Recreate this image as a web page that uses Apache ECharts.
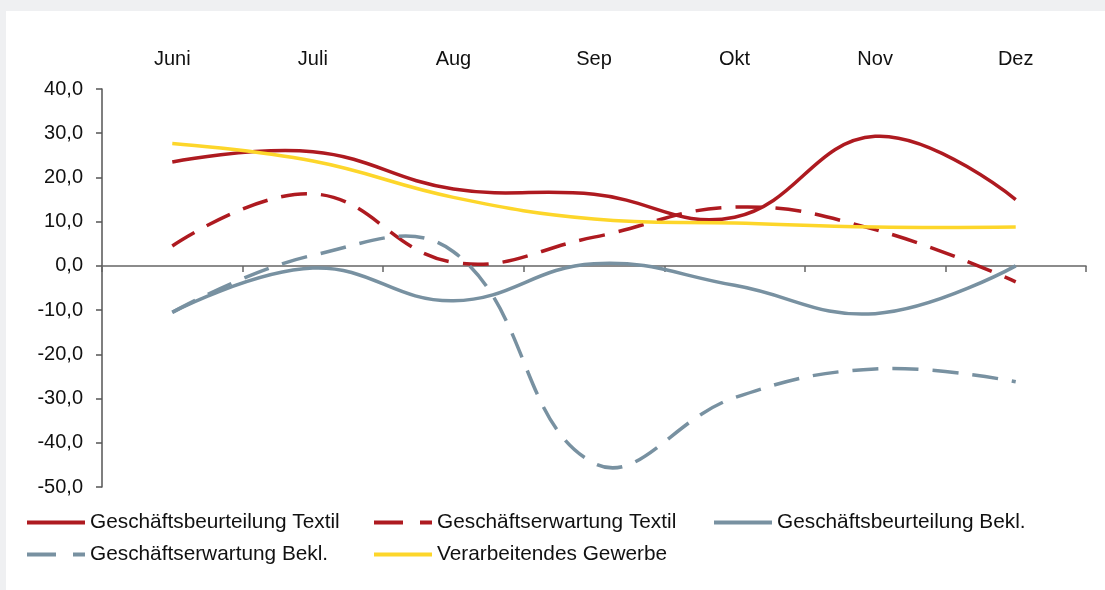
<!DOCTYPE html>
<html>
<head>
<meta charset="utf-8">
<script src="https://cdn.jsdelivr.net/npm/echarts@6/dist/echarts.min.js"></script>
<style>
  html, body { margin: 0; padding: 0; background: #ffffff; }
  #chart { width: 1105px; height: 590px; }
</style>
</head>
<body>
<div id="chart"></div>
<script>
// ---- Data ----
const months = ['Juni', 'Juli', 'Aug', 'Sep', 'Okt', 'Nov', 'Dez'];
const yTicks = [-50, -40, -30, -20, -10, 0, 10, 20, 30, 40];

const beurteilungTextil = [23.5, 25.8, 17.4, 16.2, 11.0, 29.3, 15.0];
const erwartungTextil   = [4.5, 16.3, 0.8, 6.5, 13.3, 8.2, -3.6];
const beurteilungBekl   = [-10.5, -0.5, -7.9, 0.5, -4.4, -10.8, 0.0];
const erwartungBekl     = [-10.5, 2.4, 3.2, -44.6, -29.8, -23.3, -26.2];
const verarbGewerbe     = [27.7, 23.7, 15.5, 10.6, 9.7, 8.8, 8.8];

const seriesNames = [
  'Geschäftsbeurteilung Textil',
  'Geschäftserwartung Textil',
  'Geschäftsbeurteilung Bekl.',
  'Geschäftserwartung Bekl.',
  'Verarbeitendes Gewerbe'
];

// ---- Styles ----
const RED = '#ae1a20';
const SLATE = '#7891a1';
const YELLOW = '#fdd62a';
const FONT = 'Liberation Sans, Arial, sans-serif';
const SMOOTH = 0.42;
const DASH = [26, 14];
const ICON_SOLID = 'path://M0,0H58V4H0Z';
const ICON_DASHED = 'path://M0,0H29V4H0ZM46,0H58V4H46Z';

// Smoothed line drawn through the chart's own scales (api.coord)
function smoothSeries(name, values, color, dashed) {
  return {
    name: name,
    type: 'custom',
    xAxisIndex: 0,
    yAxisIndex: 0,
    data: values.map((v, i) => [i, v]),
    encode: { x: 0, y: 1 },
    itemStyle: { color: color },
    silent: true,
    z: 3,
    renderItem: function (params, api) {
      if (params.dataIndex !== 0) return null;
      const pts = values.map((v, i) => api.coord([i, v]));
      return {
        type: 'polyline',
        shape: { points: pts, smooth: SMOOTH },
        style: {
          fill: null,
          stroke: color,
          lineWidth: 3.5,
          lineDash: dashed ? DASH : null
        }
      };
    }
  };
}

function legendAt(name, left, top, dashed) {
  return {
    data: [name],
    left: left,
    top: top,
    padding: 0,
    icon: dashed ? ICON_DASHED : ICON_SOLID,
    itemWidth: 58,
    itemHeight: 4,
    selectedMode: false,
    textStyle: { fontSize: 20.8, color: '#111', fontFamily: FONT }
  };
}

const chart = echarts.init(document.getElementById('chart'), null, { renderer: 'canvas' });

chart.setOption({
  backgroundColor: '#ffffff',
  animation: false,
  graphic: [
    { type: 'rect', left: 0, top: 0, shape: { width: 1105, height: 11 }, style: { fill: '#eff0f2' }, silent: true },
    { type: 'rect', left: 0, top: 0, shape: { width: 6, height: 590 }, style: { fill: '#eff0f2' }, silent: true }
  ],
  grid: { left: 102, right: 19, top: 89, bottom: 103 },
  legend: [
    legendAt(seriesNames[0], 27, 512, false),
    legendAt(seriesNames[1], 374, 512, true),
    legendAt(seriesNames[2], 714, 512, false),
    legendAt(seriesNames[3], 27, 544, true),
    legendAt(seriesNames[4], 374, 544, false)
  ],
  xAxis: [
    {
      type: 'category',
      data: months,
      position: 'top',
      boundaryGap: true,
      axisLine: { show: false, onZero: false },
      axisTick: { show: false },
      axisLabel: { margin: 20, fontSize: 20, color: '#111', fontFamily: FONT },
      splitLine: { show: false }
    },
    {
      type: 'category',
      data: months,
      position: 'bottom',
      boundaryGap: true,
      axisLine: { show: true, onZero: true, onZeroAxisIndex: 0, lineStyle: { color: '#666', width: 1.5 } },
      axisTick: { show: true, inside: false, length: 6, lineStyle: { color: '#666', width: 1.5 } },
      axisLabel: { show: false },
      splitLine: { show: false }
    }
  ],
  yAxis: {
    type: 'value',
    min: yTicks[0],
    max: yTicks[yTicks.length - 1],
    interval: 10,
    axisLine: { show: true, onZero: false, lineStyle: { color: '#555', width: 1.5 } },
    axisTick: { show: true, length: 6, lineStyle: { color: '#555', width: 1.5 } },
    axisLabel: {
      margin: 19,
      fontSize: 20,
      color: '#111',
      fontFamily: FONT,
      formatter: v => v.toFixed(1).replace('.', ',')
    },
    splitLine: { show: false }
  },
  series: [
    smoothSeries(seriesNames[0], beurteilungTextil, RED, false),
    smoothSeries(seriesNames[1], erwartungTextil, RED, true),
    smoothSeries(seriesNames[2], beurteilungBekl, SLATE, false),
    smoothSeries(seriesNames[3], erwartungBekl, SLATE, true),
    smoothSeries(seriesNames[4], verarbGewerbe, YELLOW, false)
  ]
});
</script>
</body>
</html>
